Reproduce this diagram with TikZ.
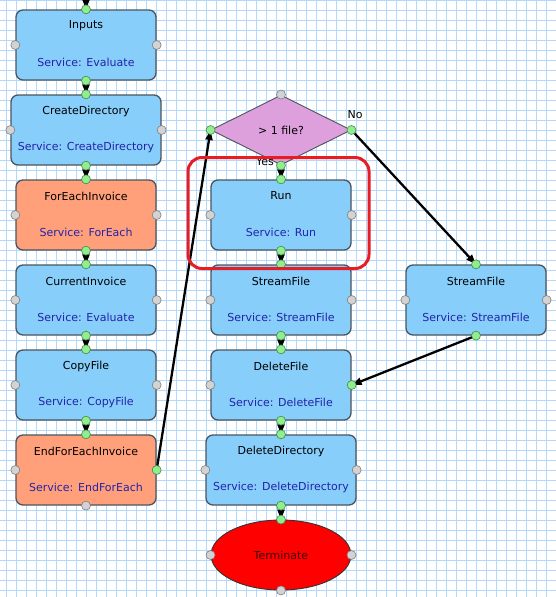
\documentclass[tikz,border=0pt]{standalone}
\usepackage{fontspec}
\setmainfont{DejaVu Sans}
\usetikzlibrary{arrows.meta,shapes.geometric}
\definecolor{boxblue}{RGB}{135,206,250}
\definecolor{boxorange}{RGB}{255,160,122}
\definecolor{dia}{RGB}{221,160,221}
\definecolor{gridc}{RGB}{180,216,250}
\definecolor{svc}{RGB}{35,35,170}
\definecolor{edgec}{RGB}{75,85,95}
\definecolor{dotg}{RGB}{144,238,144}
\definecolor{dotgedge}{RGB}{70,140,70}
\definecolor{dotgray}{RGB}{211,211,211}
\definecolor{hlred}{RGB}{232,28,36}
\tikzset{
 blk/.style={draw=edgec, line width=1.3pt, rounded corners=7pt, minimum height=70pt, inner sep=0pt},
 ttl/.style={font=\fontsize{11}{13}\selectfont, text=black, inner sep=0pt},
 svcs/.style={font=\fontsize{11}{13}\selectfont, text=svc, inner sep=0pt},
 flow/.style={line width=2.3pt, -{Triangle[length=10pt,width=7pt]}},
 gdot/.style={circle, fill=dotg, draw=dotgedge, line width=0.6pt, minimum size=9pt, inner sep=0pt},
 ydot/.style={circle, fill=dotgray, draw=gray, line width=0.6pt, minimum size=9pt, inner sep=0pt},
 lbl/.style={font=\fontsize{11}{13}\selectfont, text=black, inner sep=0pt},
}
\newcommand\mybox[7]{%
 \node[blk, fill=#5, minimum width=#4pt] (#1) at (#2,#3) {};
 \node[ttl] (#1-t) at ([yshift=19pt]#1.center) {#6};
 \node[svcs] (#1-s) at ([yshift=-17pt]#1.center) {#7};
}
\newcommand\pdots[5]{%
 \node[#2] (#1-dn) at (#1.north) {};
 \node[#3] (#1-ds) at (#1.south) {};
 \node[#4] (#1-dw) at (#1.west) {};
 \node[#5] (#1-de) at (#1.east) {};
}
\begin{document}
\begin{tikzpicture}[x=1pt,y=-1pt]
\useasboundingbox (0,0) rectangle (556,597);
\clip (0,0) rectangle (556,597);
\fill[white] (0,0) rectangle (556,597);
\foreach \x in {6.5,16.5,...,556} \draw[gridc, line width=0.9pt] (\x,0) -- (\x,597);
\foreach \y in {0,10,...,597} \draw[gridc, line width=0.9pt] (0,\y) -- (556,\y);

\mybox{inputs}{86}{45}{140}{boxblue}{Inputs}{Service: Evaluate}
\mybox{createdir}{86}{130}{150}{boxblue}{CreateDirectory}{Service: CreateDirectory}
\mybox{foreach}{86}{215}{140}{boxorange}{ForEachInvoice}{Service: ForEach}
\mybox{current}{86}{300}{140}{boxblue}{CurrentInvoice}{Service: Evaluate}
\mybox{copy}{86}{385}{140}{boxblue}{CopyFile}{Service: CopyFile}
\mybox{endfor}{86}{470}{140}{boxorange}{EndForEachInvoice}{Service: EndForEach}
\mybox{run}{281}{215}{140}{boxblue}{Run}{Service: Run}
\mybox{stream}{281}{300}{140}{boxblue}{StreamFile}{Service: StreamFile}
\mybox{stream2}{476}{300}{140}{boxblue}{StreamFile}{Service: StreamFile}
\mybox{delfile}{281}{385}{140}{boxblue}{DeleteFile}{Service: DeleteFile}
\mybox{deldir}{281}{470}{150}{boxblue}{DeleteDirectory}{Service: DeleteDirectory}

\node[diamond, draw=edgec, line width=0.9pt, fill=dia, minimum width=140pt, minimum height=70pt, inner sep=0pt, font=\fontsize{11}{13}\selectfont] (dec) at (281,130) {> 1 file?};
\node[ellipse, draw=black!80, line width=0.9pt, fill=red, minimum width=140pt, minimum height=70pt, inner sep=0pt, font=\fontsize{11}{13}\selectfont, text={rgb,255:red,60;green,0;blue,0}] (term) at (281,555) {Terminate};

\node[lbl] (yes) at (265,162) {Yes};
\node[lbl] (no) at (355,115) {No};

\coordinate (topin) at (86,-4);
\draw[flow] (topin) -- (inputs.north);
\draw[flow] (inputs.south) -- (createdir.north);
\draw[flow] (createdir.south) -- (foreach.north);
\draw[flow] (foreach.south) -- (current.north);
\draw[flow] (current.south) -- (copy.north);
\draw[flow] (copy.south) -- (endfor.north);
\draw[flow] (endfor.east) -- (dec.west);
\draw[flow] (dec.south) -- (run.north);
\draw[flow] (dec.east) -- (stream2.north);
\draw[flow] (run.south) -- (stream.north);
\draw[flow] (stream.south) -- (delfile.north);
\draw[flow] (stream2.south) -- (delfile.east);
\draw[flow] (delfile.south) -- (deldir.north);
\draw[flow] (deldir.south) -- (term.north);

\pdots{inputs}{gdot}{gdot}{ydot}{ydot}
\pdots{createdir}{gdot}{gdot}{ydot}{ydot}
\pdots{foreach}{gdot}{gdot}{ydot}{ydot}
\pdots{current}{gdot}{gdot}{ydot}{ydot}
\pdots{copy}{gdot}{gdot}{ydot}{ydot}
\pdots{endfor}{gdot}{ydot}{ydot}{gdot}
\pdots{run}{gdot}{gdot}{ydot}{ydot}
\pdots{stream}{gdot}{gdot}{ydot}{ydot}
\pdots{stream2}{gdot}{gdot}{ydot}{ydot}
\pdots{delfile}{gdot}{gdot}{ydot}{gdot}
\pdots{deldir}{gdot}{gdot}{ydot}{ydot}
\pdots{dec}{ydot}{gdot}{gdot}{gdot}
\pdots{term}{gdot}{ydot}{ydot}{ydot}

\node[draw=hlred, line width=3pt, rounded corners=14pt, minimum width=181pt, minimum height=111pt, inner sep=0pt] (hl) at (278.5,213) {};
\end{tikzpicture}
\end{document}
